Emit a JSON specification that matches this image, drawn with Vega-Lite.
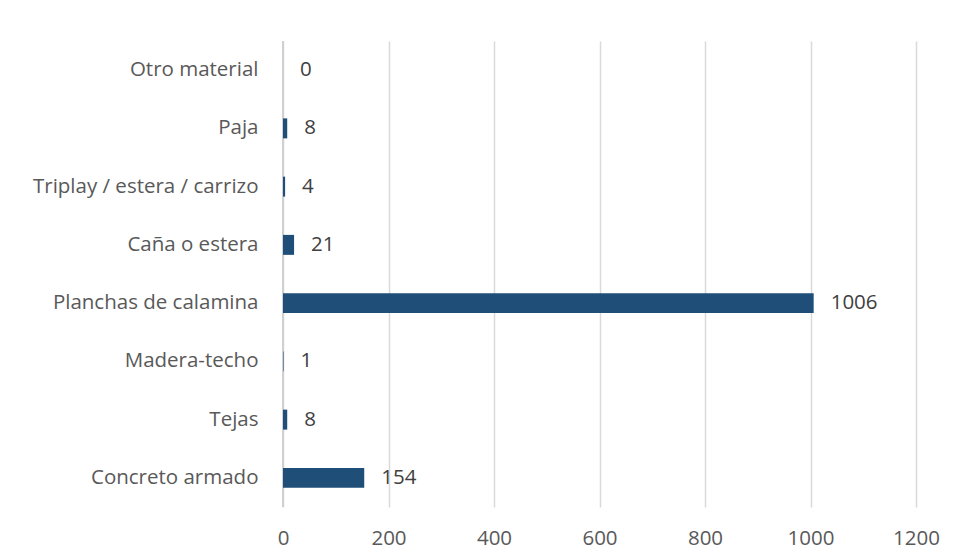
{
  "$schema": "https://vega.github.io/schema/vega-lite/v6.json",
  "width": 633,
  "height": 466,
  "autosize": {"type": "none"},
  "padding": {"left": 283, "top": 41, "right": 37, "bottom": 53},
  "background": "white",
  "config": {
    "view": {"stroke": null},
    "font": "Open Sans"
  },
  "data": {
    "values": [
      {"material": "Otro material", "valor": 0},
      {"material": "Paja", "valor": 8},
      {"material": "Triplay / estera / carrizo", "valor": 4},
      {"material": "Caña o estera", "valor": 21},
      {"material": "Planchas de calamina", "valor": 1006},
      {"material": "Madera-techo", "valor": 1},
      {"material": "Tejas", "valor": 8},
      {"material": "Concreto armado", "valor": 154}
    ]
  },
  "encoding": {
    "y": {
      "field": "material",
      "type": "nominal",
      "sort": null,
      "scale": {"paddingInner": 0.657, "paddingOuter": 0.3285},
      "axis": {
        "title": null,
        "ticks": false,
        "domain": false,
        "labelPadding": 25,
        "labelFontSize": 20.5,
        "labelColor": "#595959",
        "labelFont": "Open Sans",
        "labelLimit": 400
      }
    },
    "x": {
      "field": "valor",
      "type": "quantitative",
      "scale": {"domain": [0, 1200], "nice": false},
      "axis": {
        "title": null,
        "values": [0, 200, 400, 600, 800, 1000, 1200],
        "format": "d",
        "ticks": false,
        "domain": false,
        "grid": true,
        "gridColor": "#d9d9d9",
        "gridWidth": 1.5,
        "labelPadding": 21,
        "labelFontSize": 20.5,
        "labelColor": "#595959",
        "labelFont": "Open Sans",
        "labelFlush": false
      }
    }
  },
  "layer": [
    {
      "data": {"values": [{"v": 0}]},
      "mark": {"type": "rule", "color": "#d0d0d0", "strokeWidth": 2},
      "encoding": {"x": {"field": "v", "type": "quantitative"}, "y": null}
    },
    {
      "mark": {"type": "bar", "color": "#1F4E79"}
    },
    {
      "mark": {
        "type": "text",
        "align": "left",
        "baseline": "middle",
        "dx": 17,
        "fontSize": 20.5,
        "color": "#404040",
        "font": "Open Sans"
      },
      "encoding": {"text": {"field": "valor", "type": "quantitative", "format": "d"}}
    }
  ]
}
